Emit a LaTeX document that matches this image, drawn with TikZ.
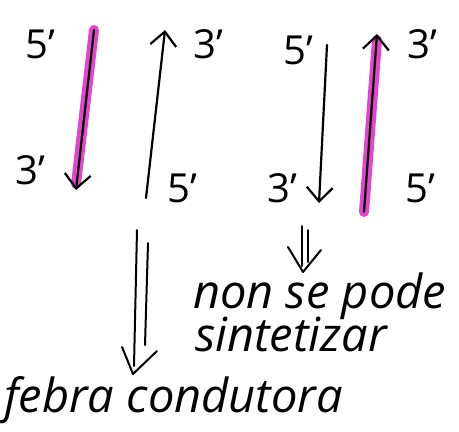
\documentclass[tikz,border=0pt]{standalone}
\usepackage{fontspec}
\setmainfont{Open Sans}
\usetikzlibrary{arrows.meta,calc}
\definecolor{mag}{RGB}{226,70,205}
\tikzset{
  lab/.style={font=\fontsize{40}{42}\selectfont, inner sep=0pt},
  hand/.style={font=\itshape\fontsize{47}{50}\selectfont, inner sep=0pt, anchor=base west},
  strand/.style={line width=2.2pt, line cap=round, -{Straight Barb[length=14pt,width=26pt,line width=2.2pt]}},
  hl/.style={line width=10pt, mag, line cap=round},
  pen/.style={line width=2pt, line cap=round, line join=round},
}
\begin{document}
\begin{tikzpicture}[x=1pt,y=-1pt]
\useasboundingbox (0,0) rectangle (459,432);
% strand 1 (magenta, down)
\coordinate (a1) at (94,30);
\coordinate (a2) at (76,190);
\draw[hl] (a1) -- ($(a2)+(0,-6)$);
\draw[strand] (a1) -- (a2);
\node[lab] (l1) at (40,44) {5'};
\node[lab] (l2) at (30,170) {3'};
% strand 2 (black, up)
\coordinate (b1) at (146,198);
\coordinate (b2) at (165,30);
\draw[strand] (b1) -- (b2);
\node[lab] (l3) at (208,44) {3'};
\node[lab] (l4) at (182,188) {5'};
% strand 3 (black, down)
\coordinate (c1) at (327,45);
\coordinate (c2) at (319,203);
\draw[strand] (c1) -- (c2);
\node[lab] (l5) at (298,50) {5'};
\node[lab] (l6) at (282,188) {3'};
% strand 4 (magenta, up)
\coordinate (d1) at (364,212);
\coordinate (d2) at (377,34);
\draw[hl] (d1) -- ($(d2)+(0,6)$);
\draw[strand] (d1) -- (d2);
\node[lab] (l7) at (422,44) {3'};
\node[lab] (l8) at (420,188) {5'};
% texts
\node[hand] (t1) at (193,308) {non se pode};
\node[hand] (t2) at (195,351) {sintetizar};
\node[hand] (t3) at (4,412) {febra condutora};
% big double arrow
\coordinate (e1) at (137,230);
\coordinate (e2) at (148,243);
\coordinate (et) at (133,374);
\draw[pen] (e1) -- (134,366);
\draw[pen] (e2) -- (145,345);
\draw[pen] (122,347) -- (et) -- (157,351);
% small double arrow
\coordinate (f1) at (302,226);
\coordinate (f2) at (308,230);
\coordinate (ft) at (303,272);
\draw[pen] (f1) -- (302,266);
\draw[pen] (f2) -- (308,262);
\draw[pen] (288,247) -- (ft) -- (321,250);
\end{tikzpicture}
\end{document}
